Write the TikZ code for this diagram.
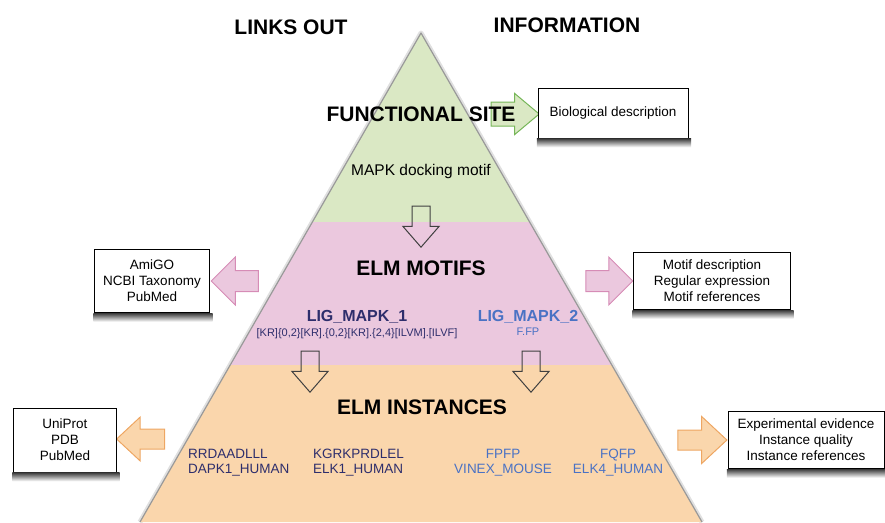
\documentclass[tikz,border=0pt]{standalone}
\usepackage{fontspec}
\setmainfont{Liberation Sans}
\usetikzlibrary{positioning,shapes.arrows,calc}

\definecolor{sitegreen}{RGB}{218,232,196}
\definecolor{sitegreenline}{RGB}{118,182,88}
\definecolor{motifpink}{RGB}{235,200,222}
\definecolor{motifpinkline}{RGB}{214,140,182}
\definecolor{instorange}{RGB}{250,214,172}
\definecolor{instorangeline}{RGB}{238,166,98}
\definecolor{elmnavy}{RGB}{46,46,108}
\definecolor{elmblue}{RGB}{74,114,196}

\begin{document}
\begin{tikzpicture}[x=1pt,y=-1pt,
  leveltitle/.style={font=\fontsize{21}{24}\selectfont\bfseries},
  infobox/.style={draw=black, fill=white, align=center, inner sep=0pt,
    font=\fontsize{13.5}{16}\selectfont},
  blockarrow/.style n args={4}{single arrow, line width=1pt, outer sep=0pt,
    inner xsep=0pt, inner ysep=#3/2, minimum height=#1, minimum width=#2,
    single arrow head extend=(#2-#3)/2, single arrow tip angle=#4},
  hollowarrow/.style={blockarrow={41pt}{35pt}{17pt}{82}, draw=black!75, rotate=270},
  motifname/.style={font=\fontsize{16}{18}\selectfont\bfseries},
  regex/.style={font=\fontsize{11}{13}\selectfont},
  instance/.style={align=left, font=\fontsize{13.5}{15}\selectfont, inner sep=0pt}
]
\useasboundingbox (0,0) rectangle (885,522);

% pyramid
\coordinate (apex) at (421,33);
\coordinate (baseL) at (140,522);
\coordinate (baseR) at (702,522);
\draw[black!12, line width=5pt, line join=round] (baseL) -- (apex) -- (baseR);
\begin{scope}
\clip (apex) -- (baseL) -- (baseR) -- cycle;
\fill[sitegreen] (0,0) rectangle (885,222);
\fill[motifpink] (0,222) rectangle (885,365);
\fill[instorange] (0,365) rectangle (885,530);
\end{scope}
\draw[black!40, line width=1.2pt, line join=round] (baseL) -- (apex) -- (baseR);

% column headings
\node[leveltitle] (links) at (291,27) {LINKS OUT};
\node[leveltitle] (info) at (567,25) {INFORMATION};

% functional site
\node[blockarrow={48pt}{40pt}{23pt}{80}, fill=sitegreen, draw=sitegreenline]
  (site_out) at (508,114) {};
\node[leveltitle] (site) at (421,114) {FUNCTIONAL SITE};
\node[infobox, minimum width=150pt, minimum height=50pt] (bio) at (613,113)
  {Biological description};
\node[font=\fontsize{15.5}{18}\selectfont] (mapk) at (421,171) {MAPK docking motif};
\node[hollowarrow] (down_0) at (421,221.5) {};

% ELM motifs
\node[leveltitle] (motifs) at (421,268) {ELM MOTIFS};
\node[blockarrow={47pt}{47pt}{20pt}{90}, fill=motifpink, draw=motifpinkline, rotate=180]
  (motifs_in) at (240,281) {};
\node[blockarrow={47pt}{47pt}{20pt}{90}, fill=motifpink, draw=motifpinkline]
  (motifs_out) at (604,281) {};
\node[infobox, minimum width=115pt, minimum height=63pt] (amigo) at (152,281)
  {AmiGO\\NCBI Taxonomy\\PubMed};
\node[infobox, minimum width=157pt, minimum height=57pt] (motifinfo) at (712,281)
  {Motif description\\Regular expression\\Motif references};

\node[motifname, text=elmnavy] (lig_1) at (357,317) {LIG\_MAPK\_1};
\node[regex, text=elmnavy, inner sep=0pt] (rx_1) [below=1pt of lig_1]
  {[KR]\{0,2\}[KR].\{0,2\}[KR].\{2,4\}[ILVM].[ILVF]};
\node[motifname, text=elmblue] (lig_2) at (528,317) {LIG\_MAPK\_2};
\node[regex, text=elmblue, inner sep=0pt] (rx_2) [below=1pt of lig_2] {F.FP};
\node[hollowarrow] (down_1) at (310,366.5) {};
\node[hollowarrow] (down_2) at (531,366.5) {};

% ELM instances
\node[leveltitle] (instances) at (422,407) {ELM INSTANCES};
\node[blockarrow={48pt}{43pt}{19pt}{86}, fill=instorange, draw=instorangeline, rotate=180]
  (inst_in) at (146,439) {};
\node[blockarrow={49pt}{46pt}{19pt}{86}, fill=instorange, draw=instorangeline]
  (inst_out) at (697,440) {};
\node[infobox, minimum width=103pt, minimum height=64pt] (uniprot) at (65,440)
  {UniProt\\PDB\\PubMed};
\node[infobox, minimum width=156pt, minimum height=57pt] (evidence) at (806,440)
  {Experimental evidence\\Instance quality\\Instance references};

\node[instance, text=elmnavy, anchor=west] (dapk) at (188,463) {RRDAADLLL\\DAPK1\_HUMAN};
\node[instance, text=elmnavy, anchor=west] (elk1) at (313,463) {KGRKPRDLEL\\ELK1\_HUMAN};
\node[instance, text=elmblue, align=center] (vinex) at (503,463) {FPFP\\VINEX\_MOUSE};
\node[instance, text=elmblue, align=center] (elk4) at (618,463) {FQFP\\ELK4\_HUMAN};

% box shadows
\foreach \sb in {bio,amigo,motifinfo,uniprot,evidence} {
  \shade[top color=black!75, bottom color=white]
    ($(\sb.south west)+(-1,0.6)$) rectangle ($(\sb.south east)+(3,9)$);
}
\end{tikzpicture}
\end{document}
